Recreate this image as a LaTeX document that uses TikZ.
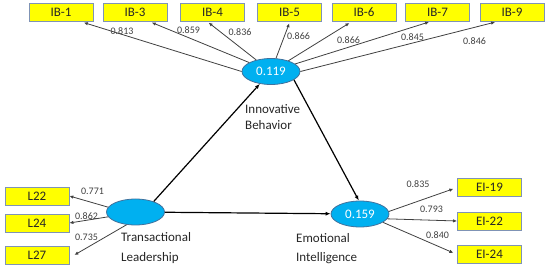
\documentclass[tikz,border=0pt]{standalone}
\usepackage{fontspec}
\setmainfont{Carlito}
\usetikzlibrary{shapes.geometric,arrows.meta,positioning,calc}
\definecolor{amarillo}{RGB}{255,255,0}
\definecolor{bordecaja}{RGB}{127,147,181}
\definecolor{celeste}{RGB}{0,176,240}
\definecolor{bordeovalo}{RGB}{65,113,156}
\definecolor{gristexto}{RGB}{64,64,64}
\tikzset{
  indicador/.style={
    rectangle, draw=bordecaja, fill=amarillo, line width=0.8pt,
    minimum width=64pt, minimum height=18pt, inner sep=0pt,
    font=\fontsize{13}{15}\selectfont, text=black!85},
  constructo/.style={
    ellipse, draw=bordeovalo, fill=celeste, line width=0.8pt,
    minimum width=58pt, minimum height=26pt, inner sep=0pt,
    font=\fontsize{13}{15}\selectfont, text=white},
  carga/.style={-{Latex[length=4pt,width=3.5pt]}, line width=0.8pt, draw=gristexto},
  camino/.style={-{Latex[length=5pt,width=4pt]}, line width=1.2pt},
  valor/.style={font=\fontsize{10}{12}\selectfont, text=gristexto, inner sep=0pt},
  nombre/.style={align=left, anchor=base west, inner sep=0pt, text=black!85}
}

\begin{document}
\begin{tikzpicture}[x=1pt,y=-1pt]
\useasboundingbox (0,0) rectangle (550,275);

% Constructos
\node[constructo] (ib) at (271,71.5) {0.119};
\node[constructo] (tl) at (135.5,212) {};
\node[constructo] (ei) at (360,214) {0.159};

% (base = ultima linea)
\node[nombre, font=\fontsize{13}{16}\selectfont] (ibnom) at (245,130) {Innovative\\Behavior};
\node[nombre, font=\fontsize{13}{20}\selectfont] (tlnom) at (121,262) {Transactional\\Leadership};
\node[nombre, font=\fontsize{13}{19}\selectfont] (einom) at (296,262) {Emotional\\Intelligence};

% Indicadores
\node[indicador] (ib1) at (61,12) {IB-1};
\node[indicador] (ib3) at (135,12) {IB-3};
\node[indicador] (ib4) at (212.5,12) {IB-4};
\node[indicador] (ib5) at (289.5,12) {IB-5};
\node[indicador] (ib6) at (364,12) {IB-6};
\node[indicador] (ib7) at (437.5,12) {IB-7};
\node[indicador] (ib9) at (512,12) {IB-9};

\node[indicador] (l22) at (37,196) {L22};
\node[indicador] (l24) at (37,223) {L24};
\node[indicador] (l27) at (37,255) {L27};

\node[indicador] (ei19) at (489.5,187.5) {EI-19};
\node[indicador] (ei22) at (489.5,221) {EI-22};
\node[indicador] (ei24) at (489.5,254.5) {EI-24};

% Cargas
\draw[carga, shorten >=4pt] (ib.west) -- ([xshift=19pt]ib1.south);
\draw[carga, shorten >=3pt] (ib) -- ([xshift=14pt]ib3.south);
\draw[carga, shorten >=2pt] (ib) -- ([xshift=-5.5pt]ib4.south);
\draw[carga, shorten >=2pt] (ib) -- ([xshift=0.5pt]ib5.south);
\draw[carga, shorten >=3pt] (ib) -- ([xshift=-12pt]ib6.south);
\draw[carga, shorten >=2pt] (ib) -- ([xshift=-6.5pt]ib7.south);
\draw[carga, shorten >=3pt] (ib.east) -- ([xshift=-14pt]ib9.south);

\draw[carga] (tl.170) -- (l22.east);
\draw[carga] (tl.190) -- (l24.east);
\draw[carga] (tl.235) -- ([xshift=5pt]l27.east);

\draw[carga, shorten >=4pt] (ei.5) -- (ei19.west);
\draw[carga] (ei.-10) -- (ei22.west);
\draw[carga, shorten >=4pt] (ei.-20) -- (ei24.west);

\node[valor] at (122,31) {0.813};
\node[valor] at (188.5,30) {0.859};
\node[valor] at (240,32) {0.836};
\node[valor] at (298.5,36) {0.866};
\node[valor] at (348.5,40) {0.866};
\node[valor] at (412.5,37) {0.845};
\node[valor] at (474.5,41) {0.846};

\node[valor] at (92.5,191) {0.771};
\node[valor] at (86.5,216) {0.862};
\node[valor] at (86.5,237) {0.735};

\node[valor] at (418,184) {0.835};
\node[valor] at (431.5,209) {0.793};
\node[valor] at (437.5,235) {0.840};

% Caminos
\draw[camino] (tl.30) -- (ib);
\draw[camino] (tl) -- (ei);
\draw[camino] (ib.-20) -- (ei.95);

\end{tikzpicture}
\end{document}
